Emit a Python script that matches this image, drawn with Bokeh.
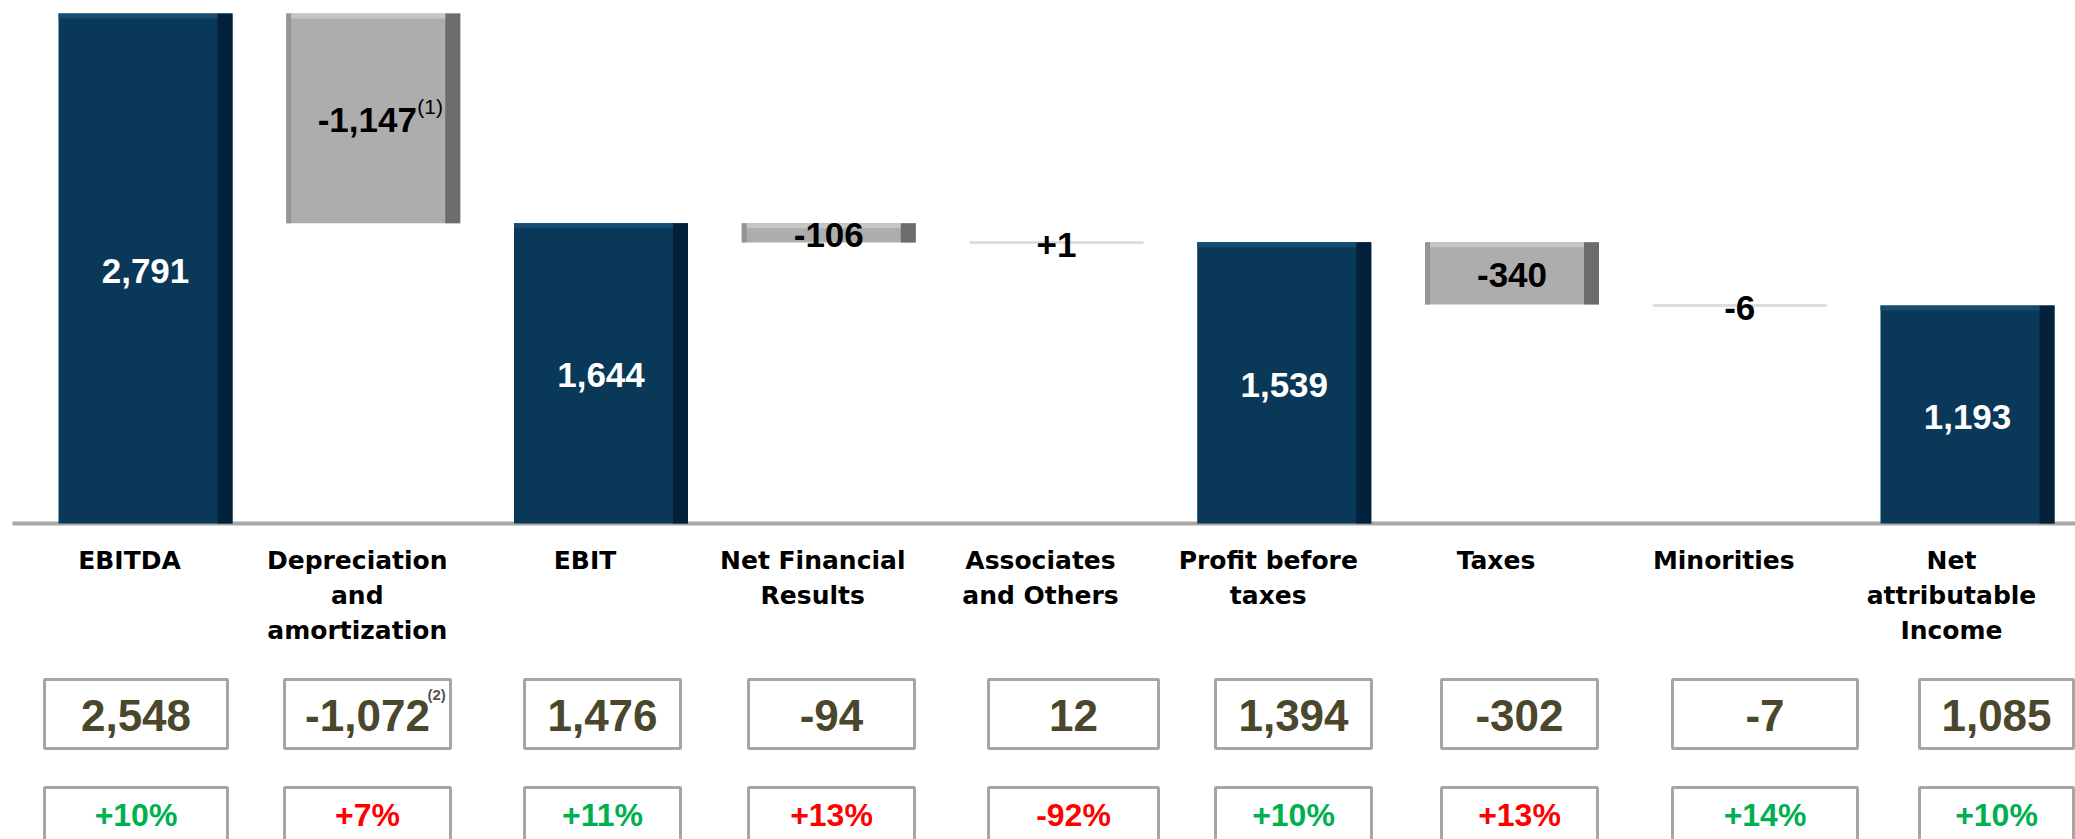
from bokeh.plotting import figure
from bokeh.models import Range1d
from bokeh.core.properties import value
from bokeh.embed import file_html
from bokeh.resources import INLINE

# ---------------- data ----------------
categories = ["EBITDA", "Depreciation\nand\namortization", "EBIT", "Net Financial\nResults",
              "Associates\nand Others", "Profit before\ntaxes", "Taxes", "Minorities",
              "Net\nattributable\nIncome"]
amounts = [2791, -1147, 1644, -106, 1, 1539, -340, -6, 1193]
kinds = ["total", "delta", "total", "delta", "delta", "total", "delta", "delta", "total"]
amount_labels = ["2,791", "-1,147", "1,644", "-106", "+1", "1,539", "-340", "-6", "1,193"]
prior_values = ["2,548", "-1,072", "1,476", "-94", "12", "1,394", "-302", "-7", "1,085"]
growth = ["+10%", "+7%", "+11%", "+13%", "-92%", "+10%", "+13%", "+14%", "+10%"]
growth_favourable = [True, False, True, False, False, True, False, True, True]
footnote_amount = {1: "(1)"}
footnote_prior = {1: "(2)"}

# ---------------- layout (screen geometry) ----------------
W, H = 2075, 839
PAGE = 0                 # page offset of the figure
STEP = 227.75            # px per category
X0 = 145                 # px of first category centre (page coords)
BASE = 523               # px of zero line (page coords)
PXU = 0.1827             # px per unit

def xu(px):               # page px -> x data
    return (px - X0) / STEP

def yu(px):               # page px -> y data
    return (BASE - px) / PXU

NAVY, NAVY_DARK, NAVY_HI = "#0a3858", "#03213a", "#164c72"
GREY, GREY_DARK, GREY_HI, GREY_L = "#adadad", "#6c6c6c", "#c6c6c6", "#959595"

p = figure(width=W, height=H, output_backend="svg", toolbar_location=None,
           x_range=Range1d(xu(PAGE), xu(PAGE + W)), y_range=Range1d(yu(PAGE + H), yu(PAGE)),
           min_border=0, outline_line_color=None, background_fill_color="white")
p.xaxis.visible = False
p.yaxis.visible = False
p.xgrid.visible = False
p.ygrid.visible = False

half = 87 / STEP
strip = 15 / STEP

# waterfall geometry
running = 0
bottoms, tops = [], []
for a, k in zip(amounts, kinds):
    if k == "total":
        b, t = 0, a
        running = a
    else:
        b, t = running, running + a
        running = t
    bottoms.append(min(b, t))
    tops.append(max(b, t))

# baseline
p.segment(x0=[xu(12)], y0=[0], x1=[xu(2075)], y1=[0], line_color="#a8a8a8", line_width=4)

for i, (a, k) in enumerate(zip(amounts, kinds)):
    b, t = bottoms[i], tops[i]
    L, R = i - half, i + half
    if k == "total":
        p.quad(left=[L], right=[R], bottom=[b], top=[t], fill_color=NAVY, line_color=None)
        p.quad(left=[R - strip], right=[R], bottom=[b], top=[t], fill_color=NAVY_DARK, line_color=None)
        p.quad(left=[L], right=[R - strip], bottom=[t - 5 / PXU], top=[t], fill_color=NAVY_HI, line_color=None)
        col = "white"
    elif (t - b) * PXU < 6:
        p.segment(x0=[L], y0=[b], x1=[R], y1=[b], line_color="#dedede", line_width=3)
        col = "black"
    else:
        p.quad(left=[L], right=[R], bottom=[b], top=[t], fill_color=GREY, line_color=None)
        p.quad(left=[L], right=[L + 5 / STEP], bottom=[b], top=[t], fill_color=GREY_L, line_color=None)
        p.quad(left=[R - strip], right=[R], bottom=[b], top=[t], fill_color=GREY_DARK, line_color=None)
        p.quad(left=[L + 5 / STEP], right=[R - strip], bottom=[t - 5 / PXU], top=[t],
               fill_color=GREY_HI, line_color=None)
        col = "black"
    ymid = (b + t) / 2 if (t - b) * PXU >= 6 else b
    xoff = -6 if i in footnote_amount else 0
    p.text(x=[i], y=[ymid], text=[amount_labels[i]], text_font=value("Liberation Sans"),
           text_font_style="bold", text_font_size="35px", text_color=col,
           text_align="center", text_baseline="middle", x_offset=xoff, y_offset=2)
    if i in footnote_amount:
        p.text(x=[i], y=[ymid], text=[footnote_amount[i]], text_font=value("Liberation Sans"),
               text_font_size="21px", text_color="black", text_align="left",
               text_baseline="middle", x_offset=44, y_offset=-12)

# category labels
for i, lab in enumerate(categories):
    for k, line in enumerate(lab.split("\n")):
        p.text(x=[i], y=[yu(560 + 35 * k)], text=[line], text_font=value("DejaVu Sans"),
               text_font_style="bold", text_font_size="25px", text_color="black",
               text_align="center", text_baseline="middle", x_offset=-16)

# comparison boxes
box_l = [44, 284, 524, 748, 988, 1215, 1441, 1672, 1919]
box_r = [227, 450, 680, 914, 1158, 1371, 1597, 1857, 2073]
for i in range(len(categories)):
    l, r = xu(box_l[i]), xu(box_r[i])
    c = (l + r) / 2
    p.quad(left=[l], right=[r], bottom=[yu(748)], top=[yu(679)], fill_color=None,
           line_color="#a6a6a6", line_width=3)
    p.quad(left=[l], right=[r], bottom=[yu(880)], top=[yu(787)], fill_color=None,
           line_color="#a6a6a6", line_width=3)
    p.text(x=[c], y=[yu(715)], text=[prior_values[i]], text_font=value("Liberation Sans"),
           text_font_style="bold", text_font_size="44px", text_color="#4b472d",
           text_align="center", text_baseline="middle")
    if i in footnote_prior:
        p.text(x=[c], y=[yu(694)], text=[footnote_prior[i]], text_font=value("Liberation Sans"),
               text_font_style="bold", text_font_size="15px", text_color="#555555",
               text_align="left", text_baseline="middle", x_offset=60)
    p.text(x=[c], y=[yu(814)], text=[growth[i]], text_font=value("Liberation Sans"),
           text_font_style="bold", text_font_size="32px",
           text_color="#00b050" if growth_favourable[i] else "#ff0000",
           text_align="center", text_baseline="middle")

open("out.html", "w").write(file_html(p, INLINE))
